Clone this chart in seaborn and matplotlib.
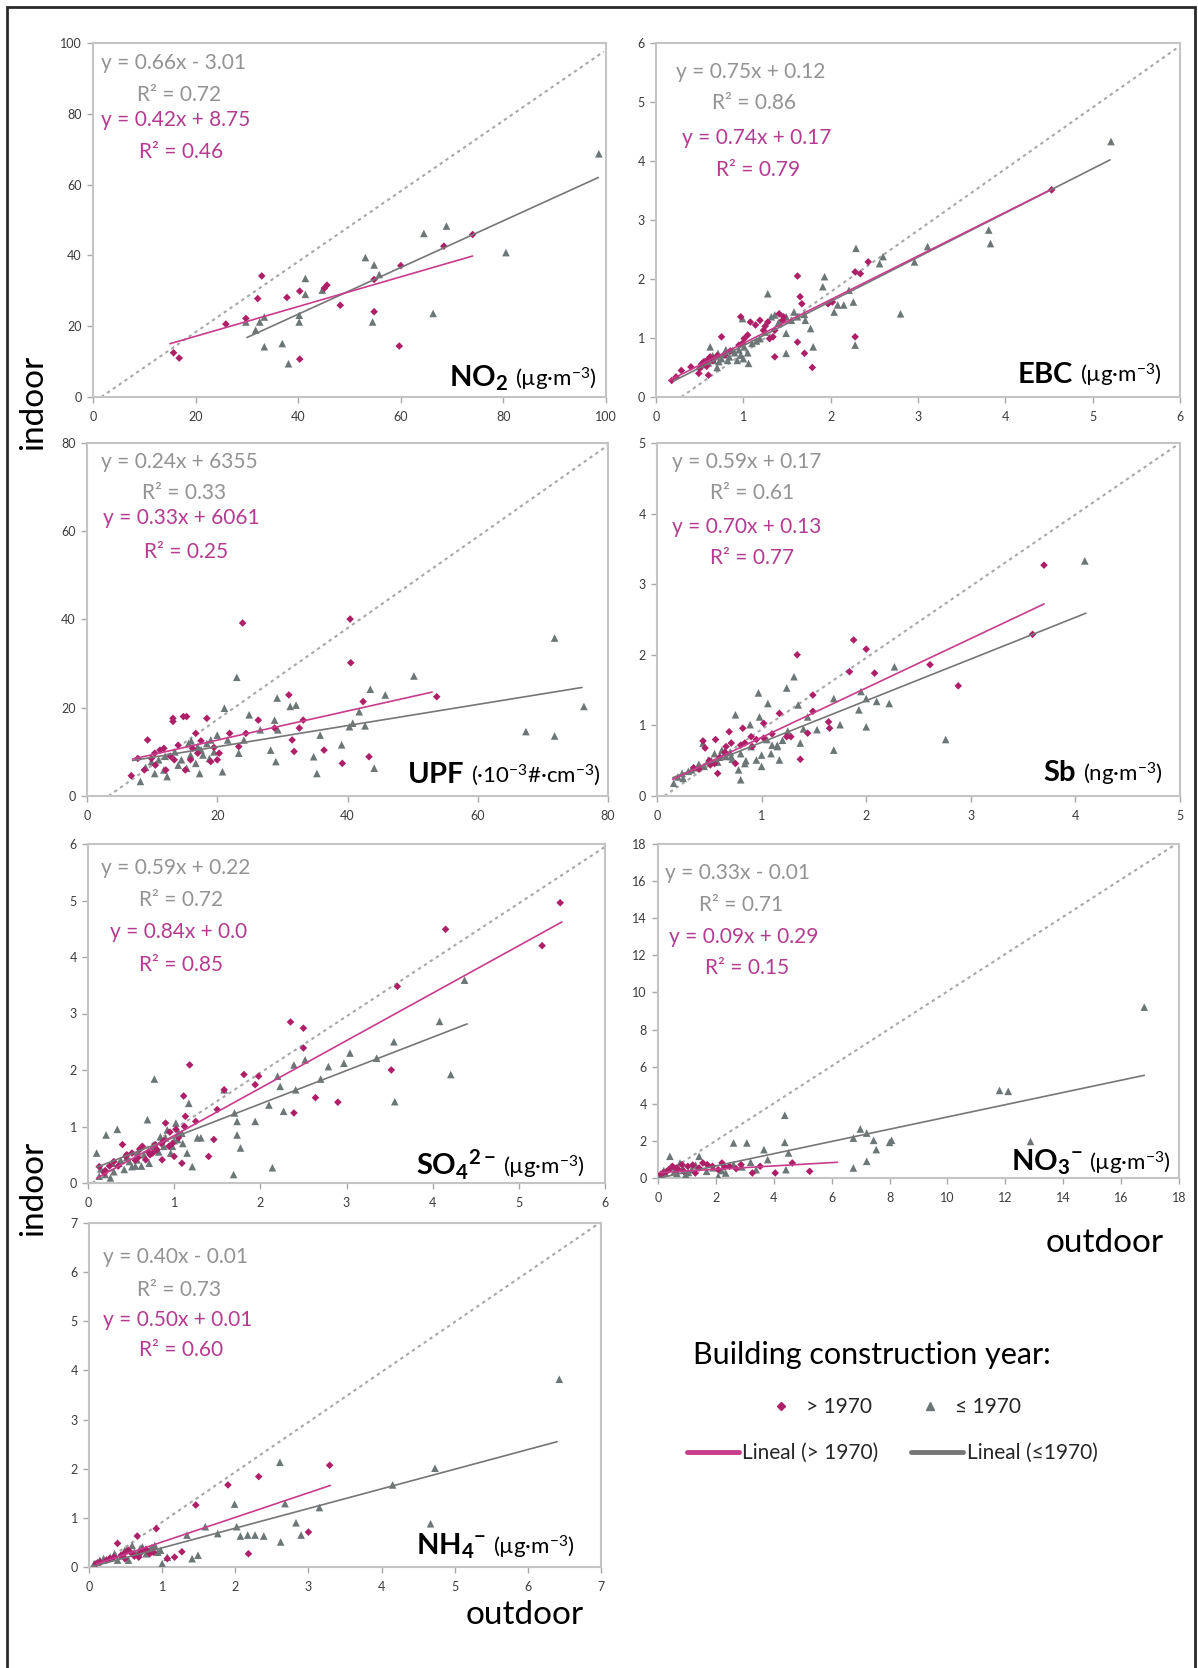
import matplotlib
matplotlib.use("Agg")
import matplotlib.pyplot as plt
import seaborn as sns
import pandas as pd
from matplotlib.lines import Line2D
from matplotlib.offsetbox import TextArea, HPacker, AnchoredOffsetbox
from matplotlib.patches import Rectangle

# ---------------- DATA ----------------
# NO2 (ug/m3)
no2_new_out = [15.7, 16.8, 25.9, 29.8, 32.1, 32.9, 37.8, 40.3, 40.3, 45.1, 45.6, 48.2, 54.8, 54.8, 60.0, 59.7, 68.4, 74.0]
no2_new_in = [12.5, 11.0, 20.6, 22.2, 27.8, 34.2, 28.1, 29.9, 10.7, 30.7, 31.6, 25.9, 33.2, 24.1, 37.1, 14.4, 42.6, 45.9]
no2_old_out = [29.8, 31.7, 32.5, 33.4, 33.4, 36.9, 38.1, 40.2, 40.2, 41.4, 41.4, 44.7, 53.1, 54.5, 54.8, 55.8, 64.5, 66.3, 68.9, 80.5, 98.6]
no2_old_in = [21.2, 18.9, 21.2, 22.6, 14.2, 15.1, 9.4, 23.1, 21.2, 33.5, 29.0, 30.2, 39.4, 21.2, 37.3, 34.6, 46.2, 23.6, 48.3, 40.8, 68.7]

# EBC (ug/m3)
ebc_new_out = [0.18, 0.23, 0.29, 0.40, 0.50, 0.53, 0.62, 0.59, 0.60, 0.49, 0.75, 0.97, 0.99, 1.01, 1.19, 1.23, 1.28, 1.34, 1.36, 1.41,
               1.46, 1.36, 1.62, 1.65, 1.67, 1.62, 1.70, 1.79, 1.97, 2.02, 2.28, 2.34, 2.28, 2.43, 4.53, 0.79, 1.08, 1.14, 1.30,
               0.52, 0.55, 0.58, 0.65, 0.70, 0.85, 0.95, 1.05, 1.25, 1.45]
ebc_new_in = [0.28, 0.34, 0.45, 0.51, 0.48, 0.57, 0.68, 0.63, 0.37, 0.40, 1.02, 1.36, 0.91, 0.99, 1.30, 1.13, 1.27, 1.02, 1.13, 1.41,
              1.36, 0.68, 2.05, 1.70, 1.58, 0.93, 0.74, 0.50, 1.58, 1.61, 2.12, 2.09, 1.02, 2.29, 3.51, 0.71, 1.27, 1.22, 0.99,
              0.55, 0.60, 0.52, 0.62, 0.70, 0.78, 0.88, 1.05, 1.20, 1.30]
ebc_old_out = [0.62, 0.66, 0.71, 0.75, 0.79, 0.84, 0.88, 0.93, 0.97, 1.01, 0.99, 1.06, 1.10, 1.19, 1.28, 1.32, 1.36, 1.41, 1.49, 1.49,
               1.49, 1.58, 1.62, 1.71, 1.77, 1.80, 1.91, 1.93, 2.04, 2.08, 2.15, 2.21, 2.26, 2.28, 2.29, 2.56, 2.60, 2.96, 3.11, 2.80,
               3.81, 3.83, 5.21, 0.55, 0.70, 0.90, 1.00, 0.80,
               0.60, 0.65, 0.72, 0.78, 0.82, 0.95, 1.05, 1.15, 1.25, 1.40, 1.55, 1.70]
ebc_old_in = [0.85, 0.62, 0.74, 0.65, 0.76, 0.68, 0.79, 0.62, 0.71, 0.85, 1.33, 0.57, 0.91, 0.99, 1.75, 1.36, 1.39, 1.27, 1.36, 1.08,
              0.74, 1.44, 1.36, 1.30, 1.16, 0.85, 1.87, 2.04, 1.44, 1.56, 1.56, 1.81, 1.61, 0.88, 2.52, 2.26, 2.38, 2.29, 2.55, 1.41,
              2.83, 2.60, 4.33, 0.55, 0.50, 0.75, 0.65, 0.80,
              0.58, 0.70, 0.60, 0.72, 0.62, 0.80, 0.75, 0.95, 1.10, 1.25, 1.30, 1.40]

# UPF (10^3 #/cm3)
upf_new_out = [6.8, 7.8, 8.8, 9.3, 9.9, 10.4, 11.2, 11.8, 12.1, 13.4, 13.2, 13.2, 14.8, 15.3, 15.1, 15.9, 16.7, 17.0, 18.4, 19.0,
               20.0, 20.3, 21.9, 23.3, 23.9, 24.4, 26.3, 28.8, 31.0, 31.5, 31.8, 32.6, 33.2, 36.4, 39.2, 40.4, 40.5, 42.4, 43.3, 53.7,
               10.5, 12.8, 14.0, 16.2, 17.5, 19.5]
upf_new_in = [4.6, 8.5, 5.9, 12.7, 8.5, 9.7, 10.4, 10.8, 5.9, 8.2, 17.6, 16.9, 18.0, 18.0, 5.9, 8.2, 14.2, 9.7, 17.6, 7.8,
              8.2, 9.7, 14.2, 11.2, 39.2, 14.2, 17.2, 15.4, 22.9, 12.7, 10.1, 15.4, 17.2, 10.4, 7.4, 40.1, 30.2, 21.4, 8.9, 22.5,
              7.0, 9.0, 11.5, 10.8, 12.5, 11.0]
upf_old_out = [8.2, 9.9, 10.4, 11.0, 11.8, 12.3, 14.5, 15.3, 15.6, 15.9, 16.7, 17.0, 17.3, 17.8, 18.4, 19.0, 20.0, 20.8, 21.1, 21.6,
               23.0, 23.3, 24.1, 24.9, 26.6, 28.2, 28.8, 29.0, 29.2, 29.3, 31.2, 32.1, 34.8, 35.3, 35.8, 39.1, 40.3, 40.8, 41.8, 42.7,
               43.5, 44.1, 45.8, 50.2, 67.4, 71.8, 71.8, 76.3,
               9.0, 12.0, 13.5, 14.0, 16.0, 17.5, 18.8, 19.5]
upf_old_in = [3.3, 7.8, 5.1, 8.2, 5.9, 4.4, 8.2, 6.3, 11.9, 9.3, 7.4, 11.2, 5.1, 9.3, 11.9, 12.7, 13.8, 5.5, 19.9, 12.7,
              26.9, 9.7, 12.7, 18.4, 15.0, 10.4, 17.2, 7.8, 22.2, 15.0, 20.3, 20.6, 8.9, 5.1, 13.8, 11.6, 15.7, 16.5, 19.1, 15.9,
              24.2, 6.3, 22.9, 27.2, 14.6, 35.8, 13.6, 20.3,
              6.5, 9.0, 10.0, 7.0, 12.5, 10.5, 8.5, 10.0]

# Sb (ng/m3)
sb_new_out = [0.44, 0.46, 0.51, 0.55, 0.58, 0.56, 0.66, 0.69, 0.71, 0.75, 0.82, 0.84, 0.90, 0.91, 1.02, 1.02, 1.17, 1.24, 1.28, 1.34,
              1.37, 1.44, 1.49, 1.49, 1.64, 1.65, 1.84, 1.88, 2.00, 2.08, 2.61, 2.88, 3.59, 3.70,
              0.35, 0.40, 0.50, 0.60, 0.65, 0.80, 0.95, 1.10]
sb_new_in = [0.78, 0.68, 0.44, 0.46, 0.32, 0.80, 0.70, 0.91, 0.75, 0.46, 0.96, 0.75, 0.84, 0.70, 1.03, 0.82, 1.17, 0.84, 0.84, 2.00,
             0.52, 0.89, 1.43, 1.20, 1.05, 0.96, 1.76, 2.21, 2.08, 1.74, 1.86, 1.56, 2.29, 3.27,
             0.40, 0.38, 0.50, 0.55, 0.62, 0.72, 0.80, 0.88]
sb_old_out = [0.16, 0.20, 0.24, 0.33, 0.44, 0.49, 0.55, 0.62, 0.66, 0.71, 0.75, 0.78, 0.80, 0.84, 0.89, 0.95, 0.97, 0.98, 1.00, 1.06,
              1.09, 1.17, 1.20, 1.24, 1.31, 1.35, 1.37, 1.44, 1.53, 1.69, 1.69, 1.75, 1.95, 1.93, 2.00, 2.00, 2.10, 2.22, 2.27, 2.76,
              4.09, 0.30, 0.40, 0.60, 0.70, 0.85, 1.10, 1.15,
              0.25, 0.35, 0.45, 0.52, 0.58, 0.65, 0.72, 0.80, 0.90, 1.00, 1.05, 1.15, 1.25, 1.40]
sb_old_in = [0.18, 0.27, 0.32, 0.37, 0.75, 0.51, 0.60, 0.65, 0.56, 0.56, 1.15, 0.37, 0.23, 0.46, 1.01, 0.51, 1.46, 1.12, 0.42, 1.31,
             0.60, 0.51, 0.79, 1.53, 1.69, 1.29, 0.75, 1.12, 0.94, 1.38, 0.65, 1.01, 1.48, 1.22, 0.98, 1.38, 1.34, 1.31, 1.83, 0.80,
             3.33, 0.35, 0.45, 0.55, 0.62, 0.50, 0.72, 0.70,
             0.25, 0.40, 0.42, 0.50, 0.48, 0.62, 0.52, 0.60, 0.70, 0.58, 0.80, 0.72, 0.92, 0.95]

# SO4 2- (ug/m3)
so4_new_out = [0.13, 0.19, 0.30, 0.40, 0.44, 0.51, 0.63, 0.67, 0.75, 0.80, 0.86, 0.90, 0.94, 1.00, 1.09, 1.11, 1.13, 1.18, 1.25, 1.40,
               1.46, 1.50, 1.58, 1.81, 1.94, 1.98, 2.35, 2.39, 2.50, 2.50, 2.64, 2.90, 3.52, 3.59, 4.15, 5.27, 5.48,
               0.35, 0.55, 0.60, 0.70, 0.85, 1.05, 0.95,
               0.20, 0.25, 0.45, 0.58, 0.72, 0.78, 0.88, 0.98, 1.02, 1.12]
so4_new_in = [0.29, 0.18, 0.38, 0.68, 0.47, 0.53, 0.65, 0.41, 0.53, 0.59, 0.41, 1.06, 0.65, 0.47, 0.35, 1.54, 1.18, 2.09, 1.09, 0.47,
              0.77, 1.30, 1.65, 1.92, 1.74, 1.89, 2.85, 1.24, 2.74, 2.39, 1.51, 1.43, 2.00, 3.48, 4.49, 4.20, 4.96,
              0.30, 0.40, 0.60, 0.55, 0.70, 0.80, 0.90,
              0.22, 0.30, 0.50, 0.45, 0.50, 0.68, 0.75, 0.70, 0.95, 1.00]
so4_old_out = [0.10, 0.13, 0.21, 0.26, 0.34, 0.36, 0.42, 0.51, 0.57, 0.69, 0.71, 0.77, 0.84, 0.88, 0.92, 0.96, 1.02, 1.04, 1.09, 1.15,
               1.17, 1.21, 1.27, 1.31, 1.58, 1.69, 1.70, 1.73, 1.73, 1.77, 1.94, 2.10, 2.14, 2.20, 2.23, 2.27, 2.39, 2.41, 2.52, 2.70,
               2.79, 2.97, 3.04, 3.35, 3.55, 3.56, 4.08, 4.21, 4.37, 0.30, 0.45, 0.55, 0.65, 0.80, 1.00, 1.10,
               0.15, 0.20, 0.28, 0.38, 0.48, 0.58, 0.62, 0.75, 0.82, 0.90, 0.98, 1.05]
so4_old_in = [0.53, 0.12, 0.85, 0.09, 0.95, 0.35, 0.24, 0.29, 0.41, 1.12, 0.35, 1.84, 0.82, 0.65, 0.94, 0.53, 1.06, 0.77, 0.88, 0.53,
              1.41, 0.29, 0.80, 0.80, 1.65, 0.15, 1.24, 0.85, 1.09, 0.62, 1.09, 1.38, 0.27, 1.89, 1.71, 1.27, 2.09, 1.65, 2.18, 1.84,
              2.06, 2.12, 2.30, 2.21, 2.50, 1.44, 2.86, 1.92, 3.59, 0.20, 0.45, 0.30, 0.50, 0.60, 0.75, 0.70,
              0.25, 0.15, 0.35, 0.40, 0.38, 0.55, 0.30, 0.65, 0.55, 0.80, 0.65, 0.90]

# NO3- (ug/m3)
no3_new_out = [0.17, 0.37, 0.63, 0.83, 1.03, 1.29, 1.55, 1.88, 2.08, 2.21, 2.47, 2.87, 3.26, 3.53, 4.05, 4.64, 5.24, 0.50, 0.89, 1.42,
               0.10, 0.30, 0.70, 1.20, 1.70, 2.30, 2.70]
no3_new_in = [0.27, 0.45, 0.54, 0.72, 0.63, 0.27, 0.81, 0.63, 0.45, 0.81, 0.63, 0.72, 0.27, 0.63, 0.27, 0.81, 0.36, 0.63, 0.36, 0.54,
              0.20, 0.35, 0.45, 0.70, 0.72, 0.60, 0.50]
no3_old_out = [0.11, 0.24, 0.41, 0.57, 0.76, 0.96, 1.16, 1.42, 1.68, 2.08, 2.34, 2.61, 2.61, 3.07, 3.39, 3.66, 3.79, 4.38, 4.38, 4.42,
               4.51, 6.75, 6.75, 6.99, 7.21, 7.21, 7.45, 7.54, 8.00, 8.07, 11.8, 12.1, 12.87, 16.8,
               0.20, 0.45, 0.65, 0.85, 1.05, 1.30, 1.90, 2.20, 2.90, 3.20]
no3_old_in = [0.18, 0.27, 1.17, 0.36, 0.81, 0.18, 0.45, 1.17, 0.36, 0.09, 0.27, 0.72, 1.89, 1.89, 0.45, 1.53, 0.99, 3.38, 1.92, 0.45,
              1.35, 0.54, 2.15, 2.64, 2.42, 0.90, 2.03, 1.53, 1.92, 2.03, 4.72, 4.67, 1.97, 9.21,
              0.40, 0.60, 0.25, 0.55, 0.30, 0.70, 0.55, 0.40, 0.60, 0.85]

# NH4 (ug/m3)
nh4_new_out = [0.10, 0.24, 0.34, 0.39, 0.49, 0.59, 0.66, 0.73, 0.83, 0.92, 1.07, 1.17, 1.27, 1.46, 1.90, 2.18, 2.32, 3.00, 3.29, 0.54, 0.68,
               0.15, 0.28, 0.44, 0.50, 0.62, 0.70, 0.78, 0.88]
nh4_new_in = [0.07, 0.14, 0.20, 0.48, 0.17, 0.27, 0.63, 0.34, 0.27, 0.78, 0.17, 0.20, 0.31, 1.26, 1.67, 0.27, 1.84, 0.71, 2.07, 0.34, 0.20,
              0.10, 0.17, 0.24, 0.30, 0.22, 0.28, 0.36, 0.30]
nh4_old_out = [0.07, 0.15, 0.29, 0.39, 0.49, 0.54, 0.59, 0.66, 0.73, 0.83, 0.90, 0.98, 1.00, 1.07, 1.34, 1.41, 1.49, 1.59, 1.76, 1.99,
               2.02, 2.07, 2.17, 2.27, 2.39, 2.61, 2.62, 2.68, 2.83, 2.90, 3.15, 4.15, 4.67, 4.73, 6.43,
               0.12, 0.20, 0.35, 0.45, 0.52, 0.62, 0.70, 0.78, 0.86, 0.94]
nh4_old_in = [0.07, 0.14, 0.20, 0.14, 0.34, 0.14, 0.44, 0.27, 0.41, 0.34, 0.44, 0.34, 0.07, 0.20, 0.65, 0.17, 0.24, 0.82, 0.68, 1.28,
              0.82, 0.63, 0.65, 0.65, 0.63, 2.13, 0.51, 1.29, 0.90, 0.65, 1.21, 1.67, 0.88, 2.01, 3.82,
              0.10, 0.17, 0.27, 0.24, 0.35, 0.30, 0.38, 0.27, 0.40, 0.30]

# Regression lines (slope, intercept in plotted units) and x-extent
fit_new_slope = [0.42, 0.74, 0.33, 0.70, 0.84, 0.09, 0.50]
fit_new_icpt = [8.75, 0.17, 6.061, 0.13, 0.0, 0.29, 0.01]
fit_new_xrange = [(15, 74), (0.15, 4.5), (7, 53), (0.15, 3.7), (0.1, 5.5), (0.05, 6.2), (0.1, 3.3)]
fit_old_slope = [0.66, 0.75, 0.24, 0.59, 0.59, 0.33, 0.40]
fit_old_icpt = [-3.01, 0.12, 6.355, 0.17, 0.22, -0.01, -0.01]
fit_old_xrange = [(30, 98.5), (0.2, 5.2), (7, 76), (0.15, 4.1), (0.1, 4.4), (0.05, 16.8), (0.05, 6.4)]

# 1:1 reference line end points
ref_x = [(1.6, 99.6), (0.29, 6.0), (3.3, 80.0), (0.07, 5.0), (0.05, 6.0), (0.0, 17.8), (0.1, 6.95)]
ref_y = [(0.0, 97.6), (0.0, 5.95), (0.0, 79.5), (0.0, 5.0), (0.0, 5.95), (0.0, 17.9), (0.0, 6.97)]

# Equation labels
eq_old = ["y = 0.66x - 3.01", "y = 0.75x + 0.12", "y = 0.24x + 6355", "y = 0.59x + 0.17",
          "y = 0.59x + 0.22", "y = 0.33x - 0.01", "y = 0.40x - 0.01"]
r2_old = ["0.72", "0.86", "0.33", "0.61", "0.72", "0.71", "0.73"]
eq_new = ["y = 0.42x + 8.75", "y = 0.74x + 0.17", "y = 0.33x + 6061", "y = 0.70x + 0.13",
          "y = 0.84x + 0.0", "y = 0.09x + 0.29", "y = 0.50x + 0.01"]
r2_new = ["0.46", "0.79", "0.25", "0.77", "0.85", "0.15", "0.60"]

pollutant_names = [r"$\mathbf{NO_2}$", r"$\mathbf{EBC}$", r"$\mathbf{UPF}$", r"$\mathbf{Sb}$",
                   r"$\mathbf{SO_4{}^{2-}}$", r"$\mathbf{NO_3{}^{-}}$", r"$\mathbf{NH_4{}^{-}}$"]
pollutant_units = [r"(µg·m$^{-3}$)", r"(µg·m$^{-3}$)", r"(·10$^{-3}$#·cm$^{-3}$)", r"(ng·m$^{-3}$)",
                   r"(µg·m$^{-3}$)", r"(µg·m$^{-3}$)", r"(µg·m$^{-3}$)"]
axis_max = [100, 6, 80, 5, 6, 18, 7]
axis_step = [20, 1, 20, 1, 1, 2, 1]

group_labels = ["> 1970", "≤ 1970"]
line_labels = ["Lineal (> 1970)", "Lineal (≤1970)"]

new_sets = [(no2_new_out, no2_new_in), (ebc_new_out, ebc_new_in), (upf_new_out, upf_new_in), (sb_new_out, sb_new_in),
            (so4_new_out, so4_new_in), (no3_new_out, no3_new_in), (nh4_new_out, nh4_new_in)]
old_sets = [(no2_old_out, no2_old_in), (ebc_old_out, ebc_old_in), (upf_old_out, upf_old_in), (sb_old_out, sb_old_in),
            (so4_old_out, so4_old_in), (no3_old_out, no3_old_in), (nh4_old_out, nh4_old_in)]

# ---------------- STYLE / LAYOUT ----------------
W, H = 1198, 1668
C_MAG = "#AE1F68"
C_MAG_LINE = "#C83C8C"
C_MAG_TXT = "#B43C90"
C_GRAY = "#6C7676"
C_GRAY_LINE = "#767676"
C_GRAY_TXT = "#939393"

boxes_px = [(93, 43, 606, 397), (656, 43, 1180, 397),
            (87, 443, 608, 796), (657, 443, 1180, 796),
            (88, 844, 605, 1183), (658, 844, 1179, 1178),
            (89, 1223, 601, 1567)]
txt_pos = [
    [(0.016, 0.944), (0.086, 0.853), (0.016, 0.782), (0.090, 0.692)],
    [(0.038, 0.918), (0.107, 0.831), (0.050, 0.732), (0.115, 0.641)],
    [(0.027, 0.946), (0.106, 0.858), (0.031, 0.788), (0.109, 0.691)],
    [(0.029, 0.946), (0.101, 0.858), (0.029, 0.762), (0.101, 0.674)],
    [(0.025, 0.929), (0.099, 0.835), (0.043, 0.740), (0.099, 0.643)],
    [(0.013, 0.913), (0.079, 0.817), (0.021, 0.722), (0.090, 0.629)],
    [(0.027, 0.901), (0.094, 0.805), (0.027, 0.718), (0.098, 0.631)],
]
label_anchor = [(0.982, 0.012), (0.966, 0.022), (0.987, 0.022), (0.967, 0.024),
                (0.961, 0.004), (0.985, 0.004), (0.949, 0.018)]

sns.set_theme(style="white")
plt.rcParams['font.family'] = ['Lato', 'DejaVu Sans']
plt.rcParams['mathtext.fontset'] = 'custom'
plt.rcParams['mathtext.rm'] = 'Lato'
plt.rcParams['mathtext.it'] = 'Lato:italic'
plt.rcParams['mathtext.bf'] = 'Lato:bold'

fig = plt.figure(figsize=(W / 100, H / 100), dpi=100)
fig.patch.set_facecolor("white")

for i in range(7):
    l, t, r, b = boxes_px[i]
    ax = fig.add_axes([l / W, 1 - b / H, (r - l) / W, (b - t) / H])
    sns.lineplot(x=list(ref_x[i]), y=list(ref_y[i]), ax=ax, color="#A8A8A8", lw=1.5,
                 linestyle=(0, (1.6, 1.8)), zorder=1)
    ox, oy = old_sets[i]
    nx, ny = new_sets[i]
    df_old = pd.DataFrame({"outdoor": ox, "indoor": oy})
    df_new = pd.DataFrame({"outdoor": nx, "indoor": ny})
    sns.scatterplot(data=df_old, x="outdoor", y="indoor", ax=ax, marker="^", s=30,
                    color=C_GRAY, edgecolor="none", linewidth=0, zorder=3)
    sns.scatterplot(data=df_new, x="outdoor", y="indoor", ax=ax, marker="D", s=15,
                    color=C_MAG, edgecolor="none", linewidth=0, zorder=4)
    x0, x1 = fit_old_xrange[i]
    sns.lineplot(x=[x0, x1], y=[fit_old_slope[i] * x0 + fit_old_icpt[i], fit_old_slope[i] * x1 + fit_old_icpt[i]],
                 ax=ax, color=C_GRAY_LINE, lw=1.2, zorder=5)
    x0, x1 = fit_new_xrange[i]
    sns.lineplot(x=[x0, x1], y=[fit_new_slope[i] * x0 + fit_new_icpt[i], fit_new_slope[i] * x1 + fit_new_icpt[i]],
                 ax=ax, color=C_MAG_LINE, lw=1.2, zorder=6)

    m = axis_max[i]
    ax.set_xlim(0, m)
    ax.set_ylim(0, m)
    ticks = list(range(0, m + 1, axis_step[i]))
    ax.set_xticks(ticks)
    ax.set_yticks(ticks)
    ax.set_xlabel("")
    ax.set_ylabel("")
    for sp in ax.spines.values():
        sp.set_color("#C4C4C4")
        sp.set_linewidth(1.5)
    ax.tick_params(axis="both", which="major", direction="out", length=4, width=1,
                   color="#A8A8A8", labelsize=9, labelcolor="#3C3C3C",
                   bottom=True, left=True, top=False, right=False)
    ax.tick_params(axis="x", pad=6)
    ax.tick_params(axis="y", pad=4)

    p = txt_pos[i]
    ax.text(p[0][0], p[0][1], eq_old[i], transform=ax.transAxes, color=C_GRAY_TXT, fontsize=15, va="center", ha="left")
    ax.text(p[1][0], p[1][1], "R² = " + r2_old[i], transform=ax.transAxes, color=C_GRAY_TXT, fontsize=15, va="center", ha="left")
    ax.text(p[2][0], p[2][1], eq_new[i], transform=ax.transAxes, color=C_MAG_TXT, fontsize=15, va="center", ha="left")
    ax.text(p[3][0], p[3][1], "R² = " + r2_new[i], transform=ax.transAxes, color=C_MAG_TXT, fontsize=15, va="center", ha="left")

    ta1 = TextArea(pollutant_names[i], textprops=dict(fontsize=21, color="black"))
    ta2 = TextArea(pollutant_units[i], textprops=dict(fontsize=16, color="black"))
    pack = HPacker(children=[ta1, ta2], align="baseline", pad=0, sep=5)
    anc = AnchoredOffsetbox(loc="lower right", child=pack, pad=0, borderpad=0, frameon=False,
                            bbox_to_anchor=label_anchor[i], bbox_transform=ax.transAxes)
    ax.add_artist(anc)

fig.text(33 / W, 1 - 402 / H, "indoor", rotation=90, fontsize=24, ha="center", va="center", color="black")
fig.text(33 / W, 1 - 1188 / H, "indoor", rotation=90, fontsize=24, ha="center", va="center", color="black")
fig.text(1105 / W, 1 - 1243 / H, "outdoor", fontsize=24, ha="center", va="center", color="black")
fig.text(525 / W, 1 - 1615 / H, "outdoor", fontsize=24, ha="center", va="center", color="black")

fig.text(872 / W, 1 - 1355 / H, "Building construction year:", fontsize=22, ha="center", va="center", color="black")
mk_handles = [Line2D([], [], marker="D", color=C_MAG, linestyle="", markersize=4.5),
              Line2D([], [], marker="^", color=C_GRAY, linestyle="", markersize=5.5)]
fig.legend(mk_handles, group_labels, loc="center", bbox_to_anchor=(895 / W, 1 - 1407 / H), ncol=2,
           frameon=False, fontsize=15, handlelength=1.2, handletextpad=0.6, columnspacing=2.2,
           borderpad=0, borderaxespad=0)
ln_handles = [Line2D([], [], color=C_MAG_LINE, lw=3.5), Line2D([], [], color=C_GRAY_LINE, lw=3.5)]
fig.legend(ln_handles, line_labels, loc="center", bbox_to_anchor=(892 / W, 1 - 1453 / H), ncol=2,
           frameon=False, fontsize=15, handlelength=2.5, handletextpad=0.15, columnspacing=1.6,
           borderpad=0, borderaxespad=0)

fig.add_artist(Rectangle((7 / W, -0.01), (1195 - 7) / W, 1.01 - 7 / H, transform=fig.transFigure,
                         fill=False, edgecolor="#2A2A2A", linewidth=2))

fig.savefig("out.png", dpi=100, facecolor="white")
